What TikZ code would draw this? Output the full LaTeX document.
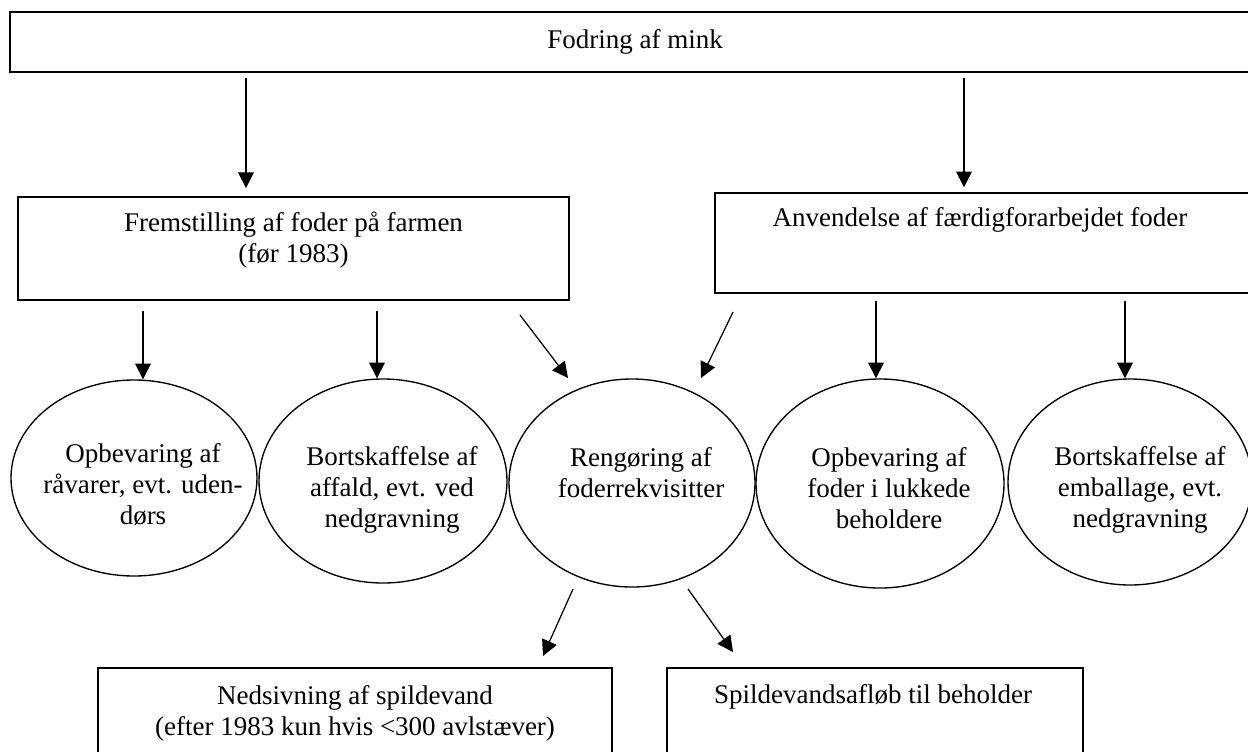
\documentclass[tikz,border=0pt]{standalone}
\usepackage{fontspec}
\setmainfont{Liberation Serif}
\usetikzlibrary{arrows.meta,shapes.geometric}
\newdimen\pxu \pxu=0.44444pt
\begin{document}
\begin{tikzpicture}[x=0.44444pt,y=-0.44444pt,
  txt/.style={font=\fontsize{12pt}{13.8pt}\selectfont, align=center, inner sep=0pt},
  box/.style={draw, line width=0.7pt, rectangle, inner sep=0pt},
  ell/.style={draw, ellipse, line width=0.6pt, inner sep=0pt},
  arr/.style={line width=0.55pt, -{Triangle[length=7pt,width=7pt]}}]
\useasboundingbox[fill=white] (0,0) rectangle (1248,751);
\clip (0,0) rectangle (1248,751);

% boxes
\node[box, minimum width=1250*\pxu, minimum height=60*\pxu] (top) at (635,42) {};
\node[txt, anchor=base] (toptxt) at (635,48) {Fodring af mink};

\node[box, minimum width=551*\pxu, minimum height=103*\pxu] (b2) at (293.5,248.5) {};
\node[txt, anchor=north] (b2txt) at (293.5,211.6) {Fremstilling af foder på farmen\\(før 1983)};

\node[box, minimum width=535*\pxu, minimum height=100*\pxu] (b3) at (982.5,243) {};
\node[txt, anchor=base] (b3txt) at (980,226.7) {Anvendelse af færdigforarbejdet foder};

\node[box, minimum width=514*\pxu, minimum height=132*\pxu] (bb1) at (355,734) {};
\node[txt, anchor=north] (bb1txt) at (355,684.6) {Nedsivning af spildevand\\(efter 1983 kun hvis <300 avlstæver)};

\node[box, minimum width=416*\pxu, minimum height=132*\pxu] (bb2) at (875,734) {};
\node[txt, anchor=base] (bb2txt) at (873,703) {Spildevandsafløb til beholder};

% ellipses
\node[ell, minimum width=246*\pxu, minimum height=196*\pxu] (e1) at (134,478) {};
\node[txt, anchor=north] (e1txt) at (143,443.3) {Opbevaring af\\råvarer, evt. uden-\\dørs};

\node[ell, minimum width=248*\pxu, minimum height=204*\pxu] (e2) at (383,481) {};
\node[txt, anchor=north] (e2txt) at (392,445.6) {Bortskaffelse af\\affald, evt. ved\\nedgravning};

\node[ell, minimum width=246*\pxu, minimum height=208*\pxu] (e3) at (632,483) {};
\node[txt, anchor=north] (e3txt) at (641,446.6) {Rengøring af\\foderrekvisitter};

\node[ell, minimum width=248*\pxu, minimum height=209*\pxu] (e4) at (880,483.5) {};
\node[txt, anchor=north] (e4txt) at (889,447) {Opbevaring af\\foder i lukkede\\beholdere};

\node[ell, minimum width=244*\pxu, minimum height=206*\pxu] (e5) at (1130,482) {};
\node[txt, anchor=north] (e5txt) at (1140,445.6) {Bortskaffelse af\\emballage, evt.\\nedgravning};

% arrow positions
\coordinate (xa1) at (246,0);
\coordinate (xa2) at (964,0);
\coordinate (xe1) at (143,0);
\coordinate (xe2) at (377,0);
\coordinate (xe4) at (876,0);
\coordinate (xe5) at (1125,0);
\coordinate (d1a) at (520,315);
\coordinate (d1b) at (568,378);
\coordinate (d2a) at (733,312);
\coordinate (d2b) at (701,378);
\coordinate (d3a) at (573,589);
\coordinate (d3b) at (543,656);
\coordinate (d4a) at (688,589);
\coordinate (d4b) at (733,652);

\draw[arr, shorten <=2.2pt, shorten >=3.6pt] (top.south -| xa1) -- (b2.north -| xa1);
\draw[arr, shorten <=2.2pt, shorten >=2.2pt] (top.south -| xa2) -- (b3.north -| xa2);
\draw[arr, shorten <=4.4pt] (b2.south -| xe1) -- (e1.north -| xe1);
\draw[arr, shorten <=4.4pt] (b2.south -| xe2) -- (e2.north -| xe2);
\draw[arr, shorten <=3.1pt] (b3.south -| xe4) -- (e4.north -| xe4);
\draw[arr, shorten <=3.1pt] (b3.south -| xe5) -- (e5.north -| xe5);
\draw[arr] (d1a) -- (d1b);
\draw[arr] (d2a) -- (d2b);
\draw[arr] (d3a) -- (d3b);
\draw[arr] (d4a) -- (d4b);
\end{tikzpicture}
\end{document}
